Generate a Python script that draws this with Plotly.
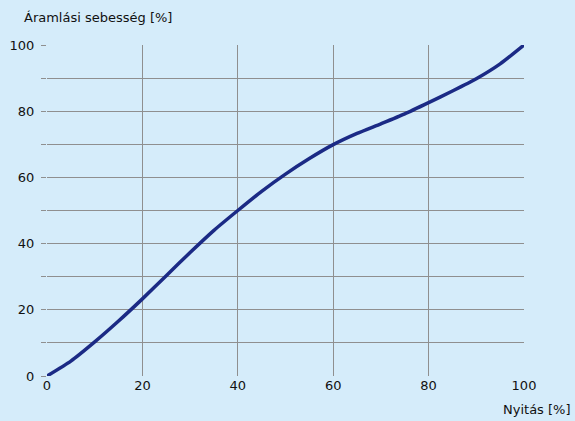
import plotly.graph_objects as go

opening = [0, 5, 10, 15, 20, 25, 30, 35, 40, 45, 50, 55, 60, 65, 70, 75, 80, 85, 90, 95, 100]
flow = [0, 4.5, 10.3, 16.6, 23.3, 30.3, 37.3, 44.0, 50.0, 55.8, 61.0, 65.7, 69.9, 73.3, 76.2, 79.2, 82.6, 86.1, 89.8, 94.3, 100]
x_ticks = [0, 20, 40, 60, 80, 100]
y_ticks = [0, 20, 40, 60, 80, 100]

bg = "#d5ecfa"
grid = "#8f8f8f"
font = dict(family="DejaVu Sans, Liberation Sans, sans-serif", size=13, color="#111111")

fig = go.Figure()
fig.add_trace(go.Scatter(x=opening, y=flow, mode="lines",
                         line=dict(color="#1b2a85", width=3.5, shape="spline", smoothing=0.6),
                         hoverinfo="skip", showlegend=False, cliponaxis=False))

fig.update_layout(
    width=575, height=421,
    paper_bgcolor=bg, plot_bgcolor=bg,
    margin=dict(l=47, r=51, t=45, b=45),
    font=font,
    xaxis=dict(range=[0, 100], tickvals=x_ticks, showgrid=True, gridcolor=grid, gridwidth=1.2,
               zeroline=False, showline=False, ticks="", ticklabelstandoff=0, tickfont=font,
               automargin=False, fixedrange=True),
    yaxis=dict(range=[0, 100], tickvals=y_ticks, showgrid=True, gridcolor=grid, gridwidth=1.2,
               zeroline=False, showline=False, ticks="outside", ticklen=5, tickcolor=grid,
               tickwidth=1.2, tickfont=font, ticklabelstandoff=4, automargin=False,
               minor=dict(dtick=10, tick0=0, showgrid=True, gridcolor=grid, gridwidth=1.2,
                          ticks="outside", ticklen=5, tickcolor=grid, tickwidth=1.2),
               fixedrange=True),
    annotations=[
        dict(text="Áramlási sebesség [%]", xref="paper", yref="paper", x=-47/477, y=1 + 27/331,
             xanchor="left", yanchor="middle", showarrow=False, xshift=22, font=font),
        dict(text="Nyitás [%]", xref="paper", yref="paper", x=1, y=-33/331,
             xanchor="right", yanchor="middle", showarrow=False, xshift=49, font=font),
    ],
)

fig.write_html("out.html", config={"displayModeBar": False},
               post_script="document.body.style.margin='0';document.body.style.overflow='hidden';")
